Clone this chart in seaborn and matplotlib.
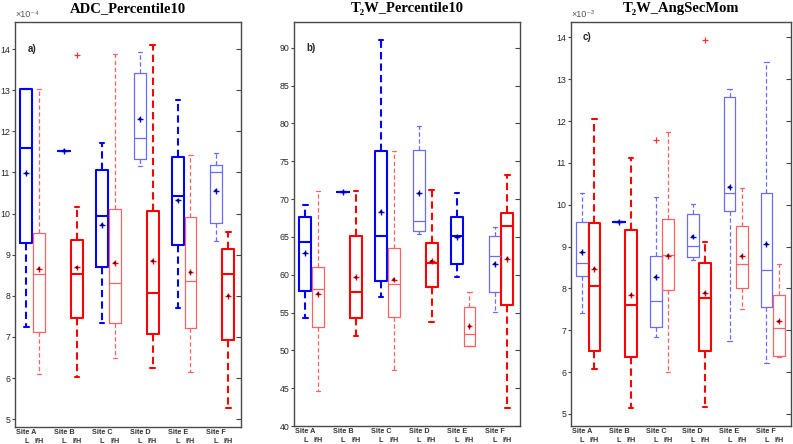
import numpy as np
import pandas as pd
import matplotlib
matplotlib.use('Agg')
import matplotlib.pyplot as plt
import seaborn as sns

# sites and groups (each site has an L box and an I/H box)
sites = ['Site A', 'Site B', 'Site C', 'Site D', 'Site E', 'Site F']
groups = ['L', 'I/H']

# panel a: ADC_Percentile10 (x 1e-4), order A-L, A-I/H, B-L, ...
adc_whishi = [13.03, 13.03, 11.53, 10.17, 11.72, 13.89, 13.92, 14.11, 12.76, 11.42, 11.47, 9.55]
adc_q3 = [13.03, 9.53, 11.53, 9.36, 11.06, 10.10, 13.41, 10.07, 11.38, 9.91, 11.19, 9.15]
adc_med = [11.60, 8.53, 11.53, 8.53, 9.95, 8.31, 11.84, 8.07, 10.44, 8.35, 11.00, 8.53]
adc_q1 = [9.29, 7.11, 11.53, 7.47, 8.70, 7.34, 11.32, 7.07, 9.23, 7.21, 9.77, 6.93]
adc_whislo = [7.24, 6.09, 11.53, 6.02, 7.33, 6.50, 11.16, 6.24, 7.71, 6.14, 9.34, 5.27]
adc_mean = [10.98, 8.66, 11.53, 8.69, 9.73, 8.80, 12.30, 8.85, 10.32, 8.57, 10.56, 8.00]
adc_style = ['d', 'l', 'd', 'd', 'd', 'l', 'l', 'd', 'd', 'l', 'l', 'd']
adc_out_box = [3]
adc_out_val = [13.85]

# panel b: T2W_Percentile10
t2p_whishi = [69.16, 71.01, 70.93, 71.01, 91.06, 76.41, 79.71, 71.19, 70.79, 57.69, 66.26, 73.12]
t2p_q3 = [67.58, 61.07, 70.93, 65.07, 76.37, 63.54, 76.51, 64.20, 67.63, 55.76, 65.07, 68.10]
t2p_med = [64.33, 58.08, 70.93, 57.65, 65.12, 58.79, 67.10, 61.60, 65.12, 52.20, 62.48, 66.44]
t2p_q1 = [57.82, 53.07, 70.93, 54.27, 59.14, 54.40, 65.82, 58.40, 61.47, 50.52, 57.68, 55.97]
t2p_whislo = [54.31, 44.68, 70.93, 51.93, 57.03, 47.45, 65.43, 53.78, 59.76, 50.52, 55.05, 42.44]
t2p_mean = [62.83, 57.47, 70.93, 59.64, 68.33, 59.36, 70.74, 61.78, 64.99, 53.16, 61.43, 62.13]
t2p_style = ['d', 'l', 'd', 'd', 'd', 'l', 'l', 'd', 'd', 'l', 'l', 'd']
t2p_out_box = []
t2p_out_val = []

# panel c: T2W_AngSecMom (x 1e-3)
asm_whishi = [10.28, 12.06, 9.59, 11.12, 10.19, 11.73, 10.03, 9.12, 12.76, 10.41, 13.41, 8.58]
asm_q3 = [9.58, 9.56, 9.59, 9.39, 8.78, 9.67, 9.79, 8.61, 12.57, 9.50, 10.27, 7.84]
asm_med = [8.61, 8.05, 9.59, 7.61, 7.70, 8.81, 9.01, 7.76, 10.29, 8.58, 8.45, 7.05]
asm_q1 = [8.30, 6.51, 9.59, 6.36, 7.07, 7.97, 8.75, 6.50, 9.86, 8.02, 7.55, 6.38]
asm_whislo = [7.42, 6.07, 9.59, 5.13, 6.83, 6.00, 8.67, 5.16, 6.74, 7.50, 6.22, 6.35]
asm_mean = [8.86, 8.47, 9.59, 7.84, 8.27, 8.78, 9.24, 7.89, 10.42, 8.77, 9.06, 7.21]
asm_style = ['l', 'd', 'd', 'd', 'l', 'l', 'l', 'd', 'l', 'l', 'l', 'l']
asm_out_box = [4, 7]
asm_out_val = [11.54, 13.93]

sns.set_theme(style='ticks')
plt.rcParams['font.family'] = ['Liberation Sans', 'DejaVu Sans']

colors = {('L', 'd'): '#0000ff', ('L', 'l'): '#6b6bff',
          ('I/H', 'd'): '#ff0000', ('I/H', 'l'): '#ff6262'}
widths_lw = {'d': 1.5, 'l': 0.9}
txt_col = '#262626'

fig = plt.figure(figsize=(7.93, 4.44), dpi=100)
ax_a = fig.add_axes([15 / 793, 17 / 444, 226 / 793, 405 / 444])
ax_b = fig.add_axes([294 / 793, 18 / 444, 226 / 793, 404 / 444])
ax_c = fig.add_axes([571 / 793, 18 / 444, 220 / 793, 404 / 444])

positions = [3 * (i // 2) + 1 + (i % 2) for i in range(12)]
grp = [groups[i % 2] for i in range(12)]


def draw_panel(ax, whishi, q3, med, q1, whislo, mean, style, out_box, out_val,
               ylim, yticks, title, label, label_y, offset=None):
    for i in range(12):
        c = colors[(grp[i], style[i])]
        lw = widths_lw[style[i]]
        st = {'whislo': whislo[i], 'q1': q1[i], 'med': med[i],
              'q3': q3[i], 'whishi': whishi[i], 'fliers': []}
        ax.bxp([st], positions=[positions[i]], widths=0.95, capwidths=0.35,
               showfliers=False, manage_ticks=False,
               boxprops=dict(color=c, lw=lw),
               whiskerprops=dict(color=c, lw=lw, linestyle=(0, (3.5, 2))),
               capprops=dict(color=c, lw=lw),
               medianprops=dict(color=c, lw=lw))

    df = pd.DataFrame({'pos': positions, 'mean': mean, 'grp': grp})
    sns.scatterplot(data=df, x='pos', y='mean', hue='grp',
                    palette={'L': '#0000ff', 'I/H': '#ff0000'},
                    marker='+', s=18, linewidth=1.0, legend=False, ax=ax, zorder=5)
    sns.scatterplot(data=df, x='pos', y='mean', hue='grp',
                    palette={'L': '#000050', 'I/H': '#500020'},
                    s=4, linewidth=0, legend=False, ax=ax, zorder=6)
    if out_box:
        odf = pd.DataFrame({'pos': [positions[b] for b in out_box], 'val': out_val})
        sns.scatterplot(data=odf, x='pos', y='val', color='#ff3030', marker='+',
                        s=22, linewidth=0.9, legend=False, ax=ax, zorder=5)

    ax.set_xlim(0.1, 18.0)
    ax.set_ylim(*ylim)
    ax.set_yticks(yticks)
    ax.set_yticklabels([str(t) for t in yticks], fontsize=6.3, color=txt_col)
    # second row of x labels: L / I/H
    ax.set_xticks(positions)
    ax.set_xticklabels(grp, fontsize=5.2, fontweight='bold', color='#333333')
    ax.tick_params(axis='x', length=0, pad=8.2, bottom=False)
    # first row: site names under the L box
    for g, site in enumerate(sites):
        ax.annotate(site, xy=(3 * g + 1, 0), xycoords=ax.get_xaxis_transform(),
                    xytext=(0, -1.2), textcoords='offset points', ha='center', va='top',
                    fontsize=5.2, fontweight='bold', color='#333333')
    ax.tick_params(axis='y', left=True, direction='out', length=2.5,
                   width=0.8, color='#444444', pad=1)
    ax.set_xlabel('')
    ax.set_ylabel('')
    for sp in ax.spines.values():
        sp.set_visible(True)
        sp.set_color('#4a4a4a')
        sp.set_linewidth(1.0)

    ax2 = ax.twinx()
    ax2.set_ylim(*ylim)
    ax2.set_yticks(yticks)
    ax2.set_yticklabels([])
    ax2.tick_params(axis='y', direction='in', length=3.5, width=0.8, color='#444444')
    for sp in ax2.spines.values():
        sp.set_visible(False)

    ax.set_title(title, fontfamily=['Liberation Serif', 'DejaVu Serif'], fontweight='bold',
                 fontsize=10.5, pad=7, color='black')
    ax.text(0.055, label_y, label, transform=ax.transAxes, fontsize=7,
            fontweight='bold', color=txt_col, va='center')
    if offset:
        ax.text(0.0, 1.008, offset, transform=ax.transAxes, fontsize=6.5,
                color='#555555', ha='left', va='bottom',
                fontfamily=['Liberation Sans', 'DejaVu Sans'])


draw_panel(ax_a, adc_whishi, adc_q3, adc_med, adc_q1, adc_whislo, adc_mean,
           adc_style, adc_out_box, adc_out_val, (4.81, 14.66), list(range(5, 15)),
           'ADC_Percentile10', 'a)', 0.933, '×10⁻⁴')
draw_panel(ax_b, t2p_whishi, t2p_q3, t2p_med, t2p_q1, t2p_whislo, t2p_mean,
           t2p_style, t2p_out_box, t2p_out_val, (40, 93.4), list(range(40, 95, 5)),
           'T₂W_Percentile10', 'b)', 0.936)
draw_panel(ax_c, asm_whishi, asm_q3, asm_med, asm_q1, asm_whislo, asm_mean,
           asm_style, asm_out_box, asm_out_val, (4.71, 14.37), list(range(5, 15)),
           'T₂W_AngSecMom', 'c)', 0.963, '×10⁻³')

fig.savefig('out.png', dpi=100)
